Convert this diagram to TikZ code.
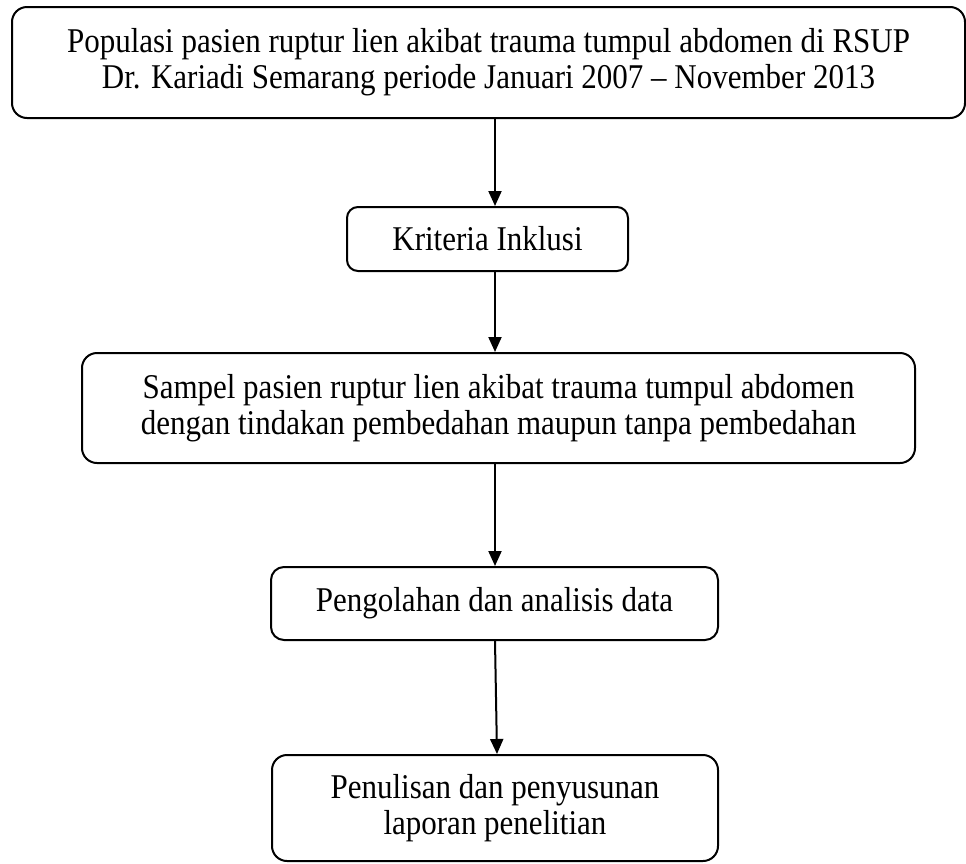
\documentclass[tikz,border=0pt]{standalone}
\usepackage{fontspec}
\setmainfont{Liberation Serif}
\usetikzlibrary{arrows.meta}
\newcommand{\tl}[1]{\scalebox{1}[1.12]{#1}}
\begin{document}
\begin{tikzpicture}[x=1pt,y=-1pt,
  flowbox/.style={draw=black, line width=2pt, rounded corners=15pt, align=center,
    inner sep=0pt, font=\fontsize{31}{36}\selectfont},
  arr/.style={line width=2pt, -{Triangle[length=15pt,width=13pt]}}]
\useasboundingbox (0,0) rectangle (966,863);
\node[flowbox, minimum width=953pt, minimum height=111pt] (pop) at (488.5,62.5)
  {\tl{Populasi pasien ruptur lien akibat trauma tumpul abdomen di RSUP}\\\tl{Dr. Kariadi Semarang periode Januari 2007 -- November 2013}};
\node[flowbox, rounded corners=11pt, minimum width=281pt, minimum height=64pt] (krit) at (487.5,239)
  {\tl{Kriteria Inklusi}};
\node[flowbox, minimum width=833pt, minimum height=110pt] (samp) at (498.5,408)
  {\tl{Sampel pasien ruptur lien akibat trauma tumpul abdomen}\\\tl{dengan tindakan pembedahan maupun tanpa pembedahan}};
\node[flowbox, rounded corners=13pt, minimum width=447pt, minimum height=73pt] (olah) at (494.5,603.5)
  {\tl{Pengolahan dan analisis data}};
\node[flowbox, minimum width=446pt, minimum height=106pt] (tulis) at (495,808)
  {\tl{Penulisan dan penyusunan}\\\tl{laporan penelitian}};
\coordinate (ax) at (495,0);
\coordinate (bx) at (497,0);
\draw[arr] (pop.south -| ax) -- (krit.north -| ax);
\draw[arr] (krit.south -| ax) -- (samp.north -| ax);
\draw[arr] (samp.south -| ax) -- (olah.north -| ax);
\draw[arr] (olah.south -| ax) -- (tulis.north -| bx);
\end{tikzpicture}
\end{document}
